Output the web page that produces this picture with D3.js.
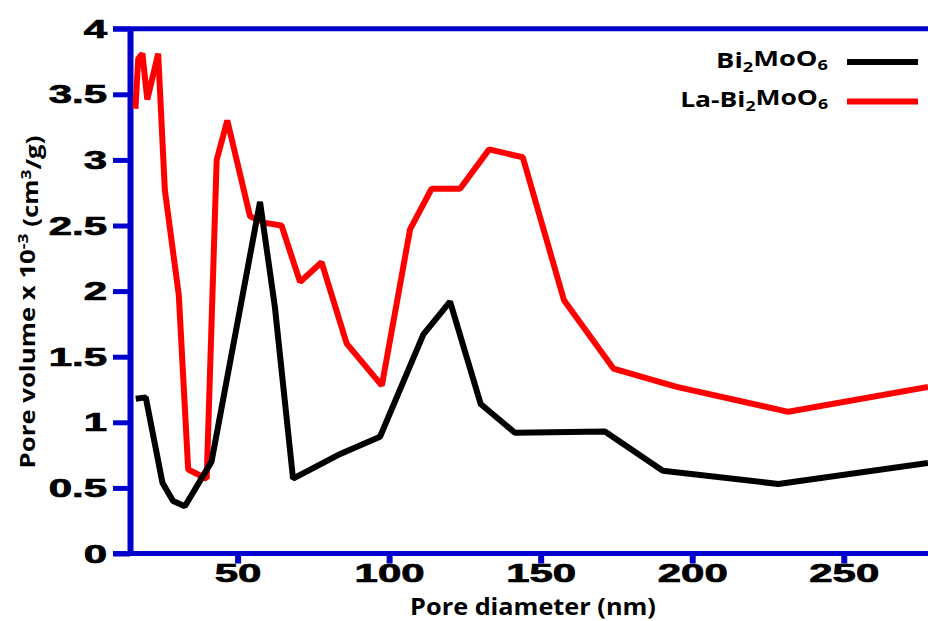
<!DOCTYPE html>
<html>
<head>
<meta charset="utf-8">
<script src="https://cdn.jsdelivr.net/npm/d3@7"></script>
<style>
  body { margin: 0; background: #fff; }
  svg { display: block; }
</style>
</head>
<body>
<svg id="chart" width="928" height="621"></svg>
<script>
// data
const poreBi = [16.4, 19.7, 25.2, 28.7, 32.6, 41.4, 57.4, 62.3, 68.3, 83.1, 97.0, 111.3, 120.1, 130.2, 141.5, 171.2, 190.3, 228.4, 277.8];
const volBi  = [1.18, 1.19, 0.54, 0.40, 0.36, 0.70, 2.68, 1.88, 0.57, 0.75, 0.89, 1.67, 1.92, 1.14, 0.92, 0.93, 0.63, 0.53, 0.69];
const poreLa = [16.3, 17.2, 18.6, 20.2, 23.8, 26.0, 30.6, 33.7, 39.8, 43.1, 46.6, 54.1, 59.0, 64.5, 70.6, 77.7, 86.0, 97.6, 106.9, 114.0, 123.4, 133.0, 144.1, 157.7, 174.0, 194.9, 231.7, 277.8];
const volLa  = [3.39, 3.77, 3.81, 3.46, 3.81, 2.77, 1.97, 0.64, 0.57, 3.00, 3.30, 2.57, 2.52, 2.50, 2.07, 2.22, 1.60, 1.28, 2.47, 2.78, 2.78, 3.08, 3.02, 1.93, 1.41, 1.27, 1.08, 1.27];
const xTicks = [50, 100, 150, 200, 250];
const yTicks = [0, 0.5, 1, 1.5, 2, 2.5, 3, 3.5, 4];

const svg = d3.select('#chart');
const blue = '#0000cd';

const x = d3.scaleLinear().domain([14.5, 277.8]).range([130, 928]);
const y = d3.scaleLinear().domain([0, 4]).range([553.5, 28.7]);

// fit a text to a width by stretching it sideways
function stretch(t, px, py, w) {
    const bw = t.node().getBBox().width;
    t.attr('transform', `translate(${px},${py}) scale(${w / bw},1)`);
}

// frame lines top and bottom
svg.append('line').attr('x1', 113).attr('x2', 928).attr('y1', y(4)).attr('y2', y(4))
    .attr('stroke', blue).attr('stroke-width', 5);
svg.append('line').attr('x1', 113).attr('x2', 928).attr('y1', y(0)).attr('y2', y(0))
    .attr('stroke', blue).attr('stroke-width', 5);

// y axis
const gy = svg.append('g').attr('transform', `translate(${x.range()[0]},0)`)
    .call(d3.axisLeft(y).tickValues(yTicks).tickFormat(d3.format('~g')).tickSizeInner(17).tickSizeOuter(0));
gy.select('.domain').attr('stroke', blue).attr('stroke-width', 6);
gy.selectAll('.tick line').attr('stroke', blue).attr('stroke-width', 5).attr('x2', -17);
gy.selectAll('.tick text')
    .attr('x', 0).attr('dy', '0.34em')
    .attr('transform', 'translate(-23,0) scale(1.68,1)')
    .attr('font-family', 'Liberation Sans, Arial, sans-serif')
    .attr('font-weight', 'bold').attr('font-size', 25)
    .attr('fill', '#000').attr('stroke', '#000').attr('stroke-width', 0.7);

// x axis
const gx = svg.append('g').attr('transform', `translate(0,${y(0)})`)
    .call(d3.axisBottom(x).tickValues(xTicks).tickSizeInner(10).tickSizeOuter(0));
gx.select('.domain').remove();
gx.selectAll('.tick line').attr('stroke', blue).attr('stroke-width', 6);
gx.selectAll('.tick text')
    .attr('y', 0).attr('dy', 0)
    .attr('transform', 'translate(0,28) scale(1.68,1)')
    .attr('font-family', 'Liberation Sans, Arial, sans-serif')
    .attr('font-weight', 'bold').attr('font-size', 25)
    .attr('fill', '#000').attr('stroke', '#000').attr('stroke-width', 0.7);

// series
const line = d3.line().x(d => x(d[0])).y(d => y(d[1]));
svg.append('path').datum(d3.zip(poreLa, volLa)).attr('d', line)
    .attr('fill', 'none').attr('stroke', '#ff0000').attr('stroke-width', 6).attr('stroke-linejoin', 'bevel');
svg.append('path').datum(d3.zip(poreBi, volBi)).attr('d', line)
    .attr('fill', 'none').attr('stroke', '#000').attr('stroke-width', 6).attr('stroke-linejoin', 'bevel');

const font = 'Open Sans, Noto Sans, sans-serif';

// axis titles
const xt = svg.append('text').attr('text-anchor', 'middle')
    .attr('font-family', font).attr('font-weight', 'bold').attr('font-size', 23)
    .text('Pore diameter (nm)');
stretch(xt, 533, 615, 246);

const yt = svg.append('text').attr('text-anchor', 'middle')
    .attr('font-family', font).attr('font-weight', 'bold').attr('font-size', 22);
yt.append('tspan').text('Pore volume x 10');
yt.append('tspan').attr('dy', '-0.45em').attr('font-size', 15).text('-3');
yt.append('tspan').attr('dy', '0.45em').text(' (cm');
yt.append('tspan').attr('dy', '-0.45em').attr('font-size', 15).text('3');
yt.append('tspan').attr('dy', '0.45em').text('/g)');
const yw = yt.node().getBBox().width;
yt.attr('transform', `translate(35,302) rotate(-90) scale(${333 / yw},1)`);

// legend
const legend = [
    { pre: 'Bi', post: 'MoO', color: '#000', w: 112, ly: 62, ty: 68 },
    { pre: 'La-Bi', post: 'MoO', color: '#ff0000', w: 148, ly: 101.5, ty: 107 }
];
legend.forEach(l => {
    const t = svg.append('text').attr('text-anchor', 'end')
        .attr('font-family', font).attr('font-weight', 'bold').attr('font-size', 21).attr('fill', '#000');
    t.append('tspan').text(l.pre);
    t.append('tspan').attr('dy', '0.25em').attr('font-size', 14).text('2');
    t.append('tspan').attr('dy', '-0.25em').text(l.post);
    t.append('tspan').attr('dy', '0.25em').attr('font-size', 14).text('6');
    stretch(t, 828, l.ty, l.w);
    svg.append('line').attr('x1', 847).attr('x2', 918).attr('y1', l.ly).attr('y2', l.ly)
        .attr('stroke', l.color).attr('stroke-width', 6);
});
</script>
</body>
</html>
